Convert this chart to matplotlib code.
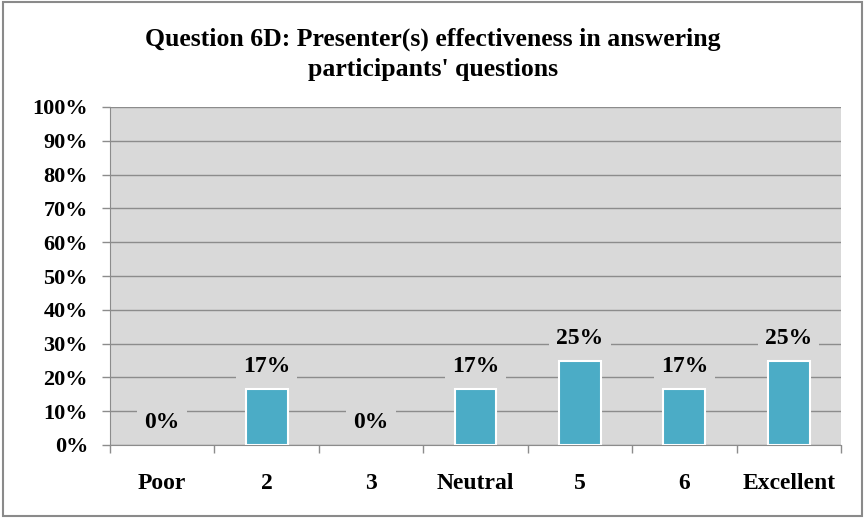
import matplotlib.pyplot as plt
from matplotlib.patches import Rectangle
from matplotlib.ticker import FixedLocator, NullFormatter

categories = ['Poor', '2', '3', 'Neutral', '5', '6', 'Excellent']
values = [0, 2/12, 0, 2/12, 3/12, 2/12, 3/12]
yticks = [0, 0.1, 0.2, 0.3, 0.4, 0.5, 0.6, 0.7, 0.8, 0.9, 1.0]
title = "Question 6D: Presenter(s) effectiveness in answering\nparticipants' questions"

plt.rcParams['font.family'] = ['Liberation Serif', 'DejaVu Serif']

fig = plt.figure(figsize=(8.66, 5.18), dpi=100)
fig.patches.append(Rectangle((0.003, 0.004), 0.992, 0.992, transform=fig.transFigure,
                             fill=False, edgecolor='#8a8a8a', linewidth=1.5))
ax = fig.add_axes([110/866, 1-445/518, 731/866, 338/518])
bg = '#d9d9d9'
ax.set_facecolor(bg)

x = range(len(categories))
ax.bar(x, values, width=0.4, color='#4bacc6', edgecolor='white',
       linewidth=[1.5 if v > 0 else 0 for v in values], zorder=3)

for xi, v in zip(x, values):
    ax.annotate(f"{round(v*100):.0f}%", (xi, v), xytext=(0, 16), textcoords='offset points',
                ha='center', va='center', fontsize=17, fontweight='bold', zorder=4,
                bbox=dict(boxstyle='square,pad=0.3', fc=bg, ec='none'))

ax.set_ylim(0, 1)
ax.set_xlim(-0.5, len(categories) - 0.5)
ax.set_yticks(yticks)
ax.set_yticklabels([f"{int(t*100)}%" for t in yticks], fontsize=16, fontweight='bold')
ax.yaxis.grid(True, color='#8c8c8c', linewidth=1, zorder=0)
ax.set_axisbelow(True)

ax.set_xticks(list(x))
ax.set_xticklabels(categories, fontsize=17, fontweight='bold')
ax.tick_params(axis='x', which='major', length=0, pad=20)
ax.xaxis.set_minor_locator(FixedLocator([i - 0.5 for i in range(len(categories) + 1)]))
ax.xaxis.set_minor_formatter(NullFormatter())
ax.tick_params(axis='x', which='minor', length=5.5, color='#8c8c8c', width=1)
ax.tick_params(axis='y', length=5.8, color='#8c8c8c', width=1, pad=10)

for s in ['top', 'right']:
    ax.spines[s].set_visible(False)
for s in ['left', 'bottom']:
    ax.spines[s].set_color('#8c8c8c')

fig.text(0.5, 1-54/518, title, ha='center', va='center', fontsize=18.5, fontweight='bold',
         linespacing=1.4)

fig.savefig('out.png', dpi=100)
